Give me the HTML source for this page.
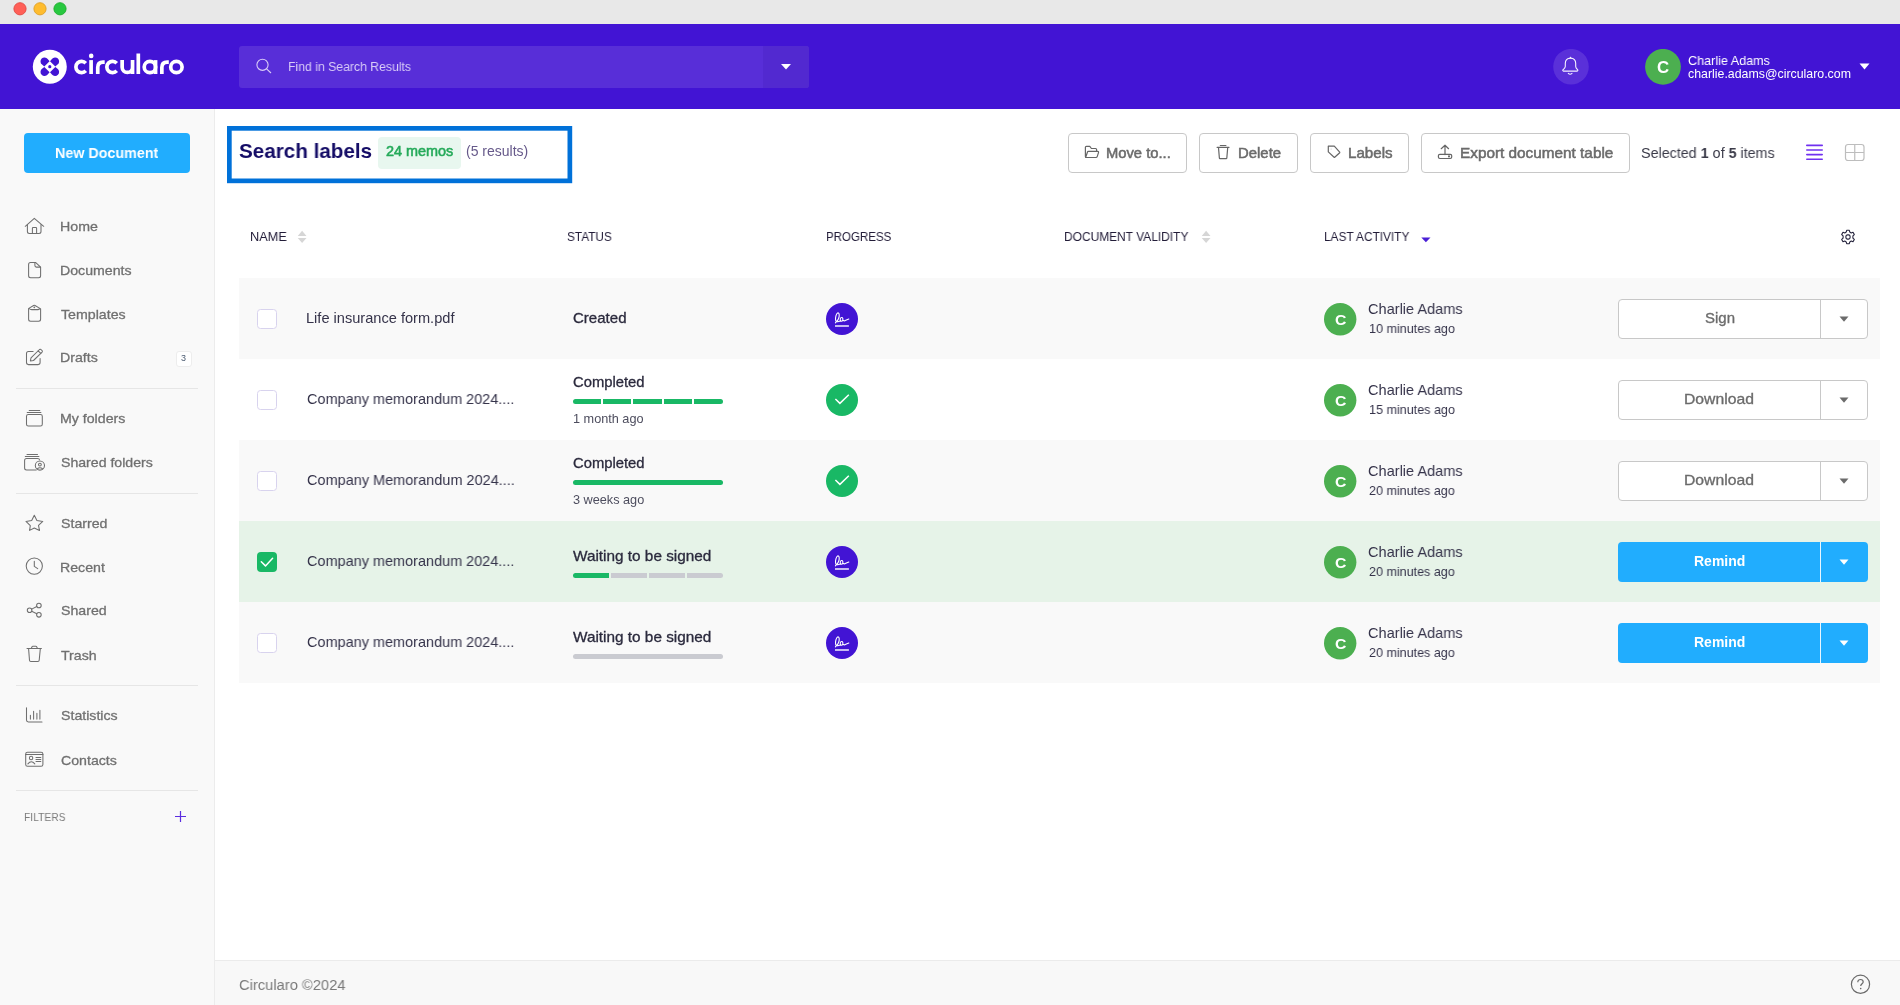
<!DOCTYPE html>
<html><head><meta charset="utf-8"><title>Circularo</title>
<style>
html,body{margin:0;padding:0;width:1900px;height:1005px;overflow:hidden;background:#fff;}
body{position:relative;font-family:"Liberation Sans", sans-serif;}
.r{position:absolute;display:block;}
.t{position:absolute;white-space:nowrap;will-change:transform;}
b{font-weight:700;}
</style></head><body>
<div class="r" style="left:0px;top:0px;width:1900px;height:24px;background:#e8e8e8;"></div>
<svg class="r" style="left:0px;top:0px;" width="80" height="24" viewBox="0 0 80 24"><circle cx="20" cy="8.8" r="6.1" fill="#ff5f57" stroke="#e2463f" stroke-width="0.9"/><circle cx="40" cy="8.8" r="6.1" fill="#febc2e" stroke="#df9e22" stroke-width="0.9"/><circle cx="60" cy="8.8" r="6.1" fill="#28c840" stroke="#1aab29" stroke-width="0.9"/></svg>
<div class="r" style="left:0px;top:24px;width:1900px;height:85px;background:#4214d4;"></div>
<svg class="r" style="left:32px;top:49px;" width="36" height="36" viewBox="0 0 36 36"><circle cx="17.8" cy="17.7" r="17" fill="#fff"/><g fill="#4214d4" transform="translate(17.8 17.7)"><path d="M-0.2,-5.5 L-5.5,-0.2 L-7.74,-2.13 A4 4 0 1 1 -2.13,-7.74 Z"/><path d="M-0.2,-5.5 L-5.5,-0.2 L-7.74,-2.13 A4 4 0 1 1 -2.13,-7.74 Z" transform="rotate(90)"/><path d="M-0.2,-5.5 L-5.5,-0.2 L-7.74,-2.13 A4 4 0 1 1 -2.13,-7.74 Z" transform="rotate(180)"/><path d="M-0.2,-5.5 L-5.5,-0.2 L-7.74,-2.13 A4 4 0 1 1 -2.13,-7.74 Z" transform="rotate(270)"/><circle r="1.6"/></g></svg>
<svg class="r" style="left:0px;top:0px;" width="200" height="100" viewBox="0 0 200 100"><g fill="none" stroke="#fff" stroke-width="3.7"><path d="M85.75 63.22 A5.65 5.65 0 1 0 85.75 70.78"/><path d="M91.1 60.1 V74"/><path d="M97.75 74 V67.4 Q97.75 62.05 103 62.05 H104.7"/><path d="M116.70 63.22 A5.65 5.65 0 1 0 116.70 70.78"/><path d="M122.15 60.1 V67.2 A5.2 5.2 0 0 0 132.55 67.2 M132.55 60.1 V74"/><path d="M138.3 53.5 V74"/><path d="M155.55 60.1 V74"/><path d="M161.85 74 V67.4 Q161.85 62.05 167.1 62.05 H168.8"/><circle cx="149.9" cy="67" r="5.7"/><circle cx="176.4" cy="67" r="5.7"/></g><circle cx="91.2" cy="55.9" r="2.3" fill="#fff"/></svg>
<div class="r" style="left:239px;top:46px;width:570px;height:42px;background:#582ed8;border-radius:3px;"></div>
<div class="r" style="left:763px;top:46px;width:46px;height:42px;background:#5229d0;border-radius:0 3px 3px 0;"></div>
<svg class="r" style="left:254px;top:56px;" width="20" height="20" viewBox="0 0 20 20"><circle cx="8.5" cy="8.8" r="5.6" fill="none" stroke="#d9ccf7" stroke-width="1.1"/><line x1="12.6" y1="12.9" x2="17" y2="17" stroke="#d9ccf7" stroke-width="1.1"/></svg>
<div class="t" style="left:287.74px;top:59.70px;font-size:13.7px;line-height:13.7px;color:#d9ccf7;font-weight:400;transform:scaleX(0.8935);transform-origin:0 0;">Find in Search Results</div>
<svg class="r" style="left:780px;top:63px;" width="12" height="8" viewBox="0 0 12 8"><path d="M1 1 L11 1 L6 6.5 Z" fill="#fff"/></svg>
<svg class="r" style="left:1553px;top:49px;" width="36" height="36" viewBox="0 0 36 36"><circle cx="18" cy="17.7" r="17.8" fill="#5a30d9"/><g fill="none" stroke="#f4f0ff" stroke-width="1.1" stroke-linejoin="round" stroke-linecap="round"><path d="M17.5 9.2 C14.5 9.2 12.3 11.2 12.3 14.5 L12.3 17.6 C12.3 19 10.8 20 9.9 20.9 C9.6 21.3 9.8 22.1 10.4 22.1 L24.2 22.1 C24.8 22.1 25 21.3 24.7 20.9 C23.8 20 22.7 19 22.7 17.6 L22.7 14.5 C22.7 11.2 20.5 9.2 17.5 9.2 Z"/><path d="M16.8 9.3 L17.5 8.3 L18.2 9.3"/><path d="M15.3 24.4 Q17.1 26.1 19 24.4"/></g></svg>
<svg class="r" style="left:1645px;top:49px;" width="36" height="36" viewBox="0 0 36 36"><circle cx="18" cy="17.8" r="17.9" fill="#4caf50"/></svg>
<div class="t" style="left:1656.72px;top:58.72px;font-size:16.4px;line-height:16.4px;color:#fff;font-weight:700;transform:scaleX(1.0255);transform-origin:0 0;">C</div>
<div class="t" style="left:1687.81px;top:53.61px;font-size:13.1px;line-height:13.1px;color:#fff;font-weight:400;transform:scaleX(0.9613);transform-origin:0 0;">Charlie Adams</div>
<div class="t" style="left:1688.01px;top:67.66px;font-size:12.1px;line-height:12.1px;color:#fff;font-weight:400;transform:scaleX(1.0218);transform-origin:0 0;">charlie.adams@circularo.com</div>
<svg class="r" style="left:1858px;top:62px;" width="14" height="10" viewBox="0 0 14 10"><path d="M1.5 1.5 L11.5 1.5 L6.5 7.5 Z" fill="#fff"/></svg>
<div class="r" style="left:0px;top:109px;width:214px;height:896px;background:#f9f9f9;"></div>
<div class="r" style="left:214px;top:109px;width:1px;height:896px;background:#ececec;"></div>
<div class="r" style="left:24px;top:133px;width:166px;height:40px;background:#21adfe;border-radius:4px;"></div>
<div class="t" style="left:55.41px;top:145.77px;font-size:14.8px;line-height:14.8px;color:#fff;font-weight:700;transform:scaleX(0.9660);transform-origin:0 0;">New Document</div>
<div class="t" style="left:60.09px;top:219.66px;font-size:13.4px;line-height:13.4px;color:#707070;font-weight:400;-webkit-text-stroke:0.3px #707070;transform:scaleX(1.0599);transform-origin:0 0;">Home</div>
<div class="t" style="left:60.09px;top:263.66px;font-size:13.4px;line-height:13.4px;color:#707070;font-weight:400;-webkit-text-stroke:0.3px #707070;transform:scaleX(1.0557);transform-origin:0 0;">Documents</div>
<div class="t" style="left:60.98px;top:307.66px;font-size:13.4px;line-height:13.4px;color:#707070;font-weight:400;-webkit-text-stroke:0.3px #707070;transform:scaleX(1.0588);transform-origin:0 0;">Templates</div>
<div class="t" style="left:60.09px;top:350.66px;font-size:13.4px;line-height:13.4px;color:#707070;font-weight:400;-webkit-text-stroke:0.3px #707070;transform:scaleX(1.0572);transform-origin:0 0;">Drafts</div>
<div class="t" style="left:60.09px;top:411.66px;font-size:13.4px;line-height:13.4px;color:#707070;font-weight:400;-webkit-text-stroke:0.3px #707070;transform:scaleX(1.0572);transform-origin:0 0;">My folders</div>
<div class="t" style="left:60.76px;top:455.66px;font-size:13.4px;line-height:13.4px;color:#707070;font-weight:400;-webkit-text-stroke:0.3px #707070;transform:scaleX(1.0543);transform-origin:0 0;">Shared folders</div>
<div class="t" style="left:60.76px;top:516.66px;font-size:13.4px;line-height:13.4px;color:#707070;font-weight:400;-webkit-text-stroke:0.3px #707070;transform:scaleX(1.0572);transform-origin:0 0;">Starred</div>
<div class="t" style="left:60.09px;top:560.66px;font-size:13.4px;line-height:13.4px;color:#707070;font-weight:400;-webkit-text-stroke:0.3px #707070;transform:scaleX(1.0572);transform-origin:0 0;">Recent</div>
<div class="t" style="left:60.76px;top:604.16px;font-size:13.4px;line-height:13.4px;color:#707070;font-weight:400;-webkit-text-stroke:0.3px #707070;transform:scaleX(1.0572);transform-origin:0 0;">Shared</div>
<div class="t" style="left:60.98px;top:648.66px;font-size:13.4px;line-height:13.4px;color:#707070;font-weight:400;-webkit-text-stroke:0.3px #707070;transform:scaleX(1.0572);transform-origin:0 0;">Trash</div>
<div class="t" style="left:60.76px;top:708.66px;font-size:13.4px;line-height:13.4px;color:#707070;font-weight:400;-webkit-text-stroke:0.3px #707070;transform:scaleX(1.0572);transform-origin:0 0;">Statistics</div>
<div class="t" style="left:60.54px;top:753.66px;font-size:13.4px;line-height:13.4px;color:#707070;font-weight:400;-webkit-text-stroke:0.3px #707070;transform:scaleX(1.0572);transform-origin:0 0;">Contacts</div>
<div class="r" style="left:16px;top:388px;width:182px;height:1px;background:#e6e6e6;"></div>
<div class="r" style="left:16px;top:493px;width:182px;height:1px;background:#e6e6e6;"></div>
<div class="r" style="left:16px;top:685px;width:182px;height:1px;background:#e6e6e6;"></div>
<div class="r" style="left:16px;top:790px;width:182px;height:1px;background:#e6e6e6;"></div>
<div class="r" style="left:175.5px;top:350.5px;width:16px;height:16px;background:#fff;border:1px solid #ededed;border-radius:3px;box-sizing:border-box;"></div>
<div class="t" style="left:181.04px;top:353.98px;font-size:9px;line-height:9px;color:#4a5a70;font-weight:400;">3</div>
<div class="t" style="left:23.70px;top:811.57px;font-size:11.5px;line-height:11.5px;color:#7c7c7c;font-weight:400;transform:scaleX(0.8945);transform-origin:0 0;">FILTERS</div>
<svg class="r" style="left:174px;top:810px;" width="13" height="13" viewBox="0 0 13 13"><path d="M6.5 1 V12 M1 6.5 H12" stroke="#5b2de0" stroke-width="1.2"/></svg>
<svg class="r" style="left:20px;top:212px;" width="30" height="28" viewBox="0 0 30 28"><g fill="none" stroke="#6f6f6f" stroke-width="1.05" stroke-linecap="round" stroke-linejoin="round"><path d="M5.3 14.3 L14.3 6.3 L23.7 14.3"/><path d="M7.4 12.6 V19.4 Q7.4 21.4 9.4 21.4 H19 Q21 21.4 21 19.4 V12.6"/><path d="M12.4 21.4 V16.2 Q12.4 15.5 13.1 15.5 H15.9 Q16.6 15.5 16.6 16.2 V21.4"/></g></svg>
<svg class="r" style="left:20px;top:256px;" width="30" height="28" viewBox="0 0 30 28"><g fill="none" stroke="#6f6f6f" stroke-width="1.05" stroke-linecap="round" stroke-linejoin="round"><path d="M15.5 6.4 H10.6 Q8.6 6.4 8.6 8.4 V19.7 Q8.6 21.7 10.6 21.7 H18.6 Q20.6 21.7 20.6 19.7 V11.2 Z"/><path d="M14.9 6.6 V9.6 Q14.9 11.1 16.4 11.1 H20.4"/></g></svg>
<svg class="r" style="left:20px;top:300px;" width="30" height="28" viewBox="0 0 30 28"><g fill="none" stroke="#6f6f6f" stroke-width="1.05" stroke-linecap="round" stroke-linejoin="round"><path d="M8.6 8.8 V19.2 Q8.6 21.2 10.6 21.2 H18.6 Q20.6 21.2 20.6 19.2 V8.8"/><path d="M8.8 8.4 L13.6 5.5 Q14.3 5.1 15 5.5 L19.9 8.4"/><path d="M9.3 8.6 Q10.3 9.6 11.7 9.6 H17.6 Q19 9.6 19.9 8.6"/><circle cx="14.3" cy="7.3" r="0.35"/></g></svg>
<svg class="r" style="left:20px;top:344px;" width="30" height="28" viewBox="0 0 30 28"><g fill="none" stroke="#6f6f6f" stroke-width="1.05" stroke-linecap="round" stroke-linejoin="round"><path d="M13.1 7.5 H8.5 Q6.5 7.5 6.5 9.5 V18.6 Q6.5 20.6 8.5 20.6 H18.1 Q20.1 20.6 20.1 18.6 V14.4"/><path d="M10.4 16.9 L11 13.9 L19.5 5.5 Q20.2 4.9 20.9 5.5 L22.1 6.7 Q22.7 7.4 22.1 8.1 L13.5 16.5 Z"/><path d="M18.2 6.8 L20.8 9.4"/></g></svg>
<svg class="r" style="left:20px;top:404px;" width="30" height="28" viewBox="0 0 30 28"><g fill="none" stroke="#6f6f6f" stroke-width="1.05" stroke-linecap="round" stroke-linejoin="round"><path d="M9.2 6.5 H19.8 M7.2 8.4 H20.9"/><rect x="6.5" y="10.4" width="15.8" height="11.6" rx="1.8"/></g></svg>
<svg class="r" style="left:20px;top:448px;" width="30" height="28" viewBox="0 0 30 28"><g fill="none" stroke="#6f6f6f" stroke-width="1.05" stroke-linecap="round" stroke-linejoin="round"><path d="M7 6.5 H17.5 M5.3 8.4 H18.9"/><path d="M16.2 22 H6.6 Q4.6 22 4.6 20 V12.4 Q4.6 10.4 6.6 10.4 H17.6 Q19.4 10.4 19.5 11.8"/><circle cx="19.9" cy="17.5" r="4.6"/><circle cx="19.9" cy="16.6" r="1.4"/><path d="M17.1 21 Q19.9 18.6 22.7 21"/></g></svg>
<svg class="r" style="left:20px;top:509px;" width="30" height="28" viewBox="0 0 30 28"><g fill="none" stroke="#6f6f6f" stroke-width="1.05" stroke-linecap="round" stroke-linejoin="round"><path d="M14.3 6.3 L16.9 11.4 L22.8 12.4 L18.5 16.4 L19.5 21.4 L14.3 19 L9.6 21.4 L10.3 16.6 L6 12.4 L11.7 11.4 Z"/></g></svg>
<svg class="r" style="left:20px;top:553px;" width="30" height="28" viewBox="0 0 30 28"><g fill="none" stroke="#6f6f6f" stroke-width="1.05" stroke-linecap="round" stroke-linejoin="round"><circle cx="14.3" cy="13.1" r="8.1"/><path d="M14.3 8.2 V13.4 L17.7 15.6"/></g></svg>
<svg class="r" style="left:20px;top:596px;" width="30" height="28" viewBox="0 0 30 28"><g fill="none" stroke="#6f6f6f" stroke-width="1.05" stroke-linecap="round" stroke-linejoin="round"><circle cx="18.9" cy="9.5" r="2.3"/><circle cx="9.6" cy="14.2" r="2.3"/><circle cx="18.9" cy="18.8" r="2.3"/><path d="M11.7 13.1 L16.8 10.5 M11.7 15.3 L16.8 17.8"/></g></svg>
<svg class="r" style="left:20px;top:640px;" width="30" height="28" viewBox="0 0 30 28"><g fill="none" stroke="#6f6f6f" stroke-width="1.05" stroke-linecap="round" stroke-linejoin="round"><path d="M7 8.5 H21.4"/><path d="M11.3 8.3 L12.2 6.6 Q12.4 6.3 12.8 6.3 H15.9 Q16.3 6.3 16.5 6.6 L17.4 8.3"/><path d="M8.6 8.9 L9.5 20.2 Q9.6 21.4 10.8 21.4 H17.9 Q19.1 21.4 19.2 20.2 L20.3 8.9"/></g></svg>
<svg class="r" style="left:20px;top:701px;" width="30" height="28" viewBox="0 0 30 28"><g fill="none" stroke="#6f6f6f" stroke-width="1.05" stroke-linecap="round" stroke-linejoin="round"><path d="M6.5 6.8 V19 Q6.5 20.9 8.4 20.9 H22"/><path d="M10.4 14.2 V18.1 M13.6 10.3 V18.1 M16.9 12.3 V18.1 M19.9 9.2 V18.1"/></g></svg>
<svg class="r" style="left:20px;top:745px;" width="30" height="28" viewBox="0 0 30 28"><g fill="none" stroke="#6f6f6f" stroke-width="1.05" stroke-linecap="round" stroke-linejoin="round"><rect x="5.7" y="7.3" width="17.2" height="13.9" rx="1.8"/><path d="M5.7 9.5 H22.9"/><circle cx="11.1" cy="13" r="1.7"/><path d="M7.9 18.9 Q11.3 14.6 14.8 18.9"/><path d="M16 12.5 H20.8 M16 14.5 H20.8 M16 16.4 H20.8"/></g></svg>
<div class="r" style="left:215px;top:960px;width:1685px;height:45px;background:#f8f8f8;"></div>
<div class="r" style="left:215px;top:960px;width:1685px;height:1px;background:#ebebeb;"></div>
<div class="t" style="left:238.81px;top:976.68px;font-size:15.5px;line-height:15.5px;color:#7a7a7a;font-weight:400;transform:scaleX(0.9495);transform-origin:0 0;">Circularo ©2024</div>
<svg class="r" style="left:1850px;top:974px;" width="21" height="21" viewBox="0 0 21 21"><circle cx="10.5" cy="10.3" r="9.1" fill="none" stroke="#6a6a6a" stroke-width="1.2"/><path d="M7.8 8.2 C7.8 6.4 9 5.5 10.5 5.5 C12 5.5 13.2 6.4 13.2 7.9 C13.2 9.6 10.7 9.9 10.7 12" fill="none" stroke="#6a6a6a" stroke-width="1.2"/><circle cx="10.7" cy="14.6" r="0.8" fill="#6a6a6a"/></svg>
<svg class="r" style="left:225px;top:124px;" width="350" height="62" viewBox="0 0 350 62"><rect x="4.35" y="4.35" width="340.5" height="52.5" fill="none" stroke="#0071d9" stroke-width="4.7"/></svg>
<div class="t" style="left:239.38px;top:140.79px;font-size:20.8px;line-height:20.8px;color:#140c66;font-weight:700;transform:scaleX(0.9921);transform-origin:0 0;">Search labels</div>
<div class="r" style="left:378px;top:137px;width:83px;height:32px;background:#e8f7ef;border-radius:4px;"></div>
<div class="t" style="left:386.12px;top:143.98px;font-size:14.2px;line-height:14.2px;color:#25aa5a;font-weight:400;-webkit-text-stroke:0.55px #25aa5a;transform:scaleX(1.0156);transform-origin:0 0;">24 memos</div>
<div class="t" style="left:466.14px;top:144.15px;font-size:14px;line-height:14px;color:#66598a;font-weight:400;">(5 results)</div>
<div class="r" style="left:1068px;top:133px;width:119px;height:40px;background:#fff;border:1px solid #c8c8c8;border-radius:4px;box-sizing:border-box;"></div>
<div class="t" style="left:1106.45px;top:145.96px;font-size:14.1px;line-height:14.1px;color:#6b6b6b;font-weight:400;-webkit-text-stroke:0.5px #6b6b6b;transform:scaleX(1.0465);transform-origin:0 0;">Move to...</div>

<div class="r" style="left:1199px;top:133px;width:99px;height:40px;background:#fff;border:1px solid #c8c8c8;border-radius:4px;box-sizing:border-box;"></div>
<div class="t" style="left:1237.54px;top:145.96px;font-size:14.1px;line-height:14.1px;color:#6b6b6b;font-weight:400;-webkit-text-stroke:0.5px #6b6b6b;transform:scaleX(1.0567);transform-origin:0 0;">Delete</div>

<div class="r" style="left:1310px;top:133px;width:99px;height:40px;background:#fff;border:1px solid #c8c8c8;border-radius:4px;box-sizing:border-box;"></div>
<div class="t" style="left:1348.02px;top:145.96px;font-size:14.1px;line-height:14.1px;color:#6b6b6b;font-weight:400;-webkit-text-stroke:0.5px #6b6b6b;transform:scaleX(1.0748);transform-origin:0 0;">Labels</div>

<div class="r" style="left:1421px;top:133px;width:209px;height:40px;background:#fff;border:1px solid #c8c8c8;border-radius:4px;box-sizing:border-box;"></div>
<div class="t" style="left:1459.50px;top:145.96px;font-size:14.1px;line-height:14.1px;color:#6b6b6b;font-weight:400;-webkit-text-stroke:0.5px #6b6b6b;transform:scaleX(1.0874);transform-origin:0 0;">Export document table</div>

<svg class="r" style="left:1080px;top:138px;" width="24" height="28" viewBox="0 0 24 28"><g fill="none" stroke="#666" stroke-width="1.2" stroke-linecap="round" stroke-linejoin="round"><path d="M5.4 18.6 V9.3 Q5.4 8.4 6.4 8.4 H9.8 L11.4 10.5 H15.6 Q16.6 10.5 16.6 11.5 V13.2"/><path d="M5.6 19.5 H16 Q16.9 19.5 17.2 18.6 L18.5 14.6 Q18.7 13.4 17.7 13.4 H8.3 Q7.7 13.4 7.5 14 L5.6 19.5 Z"/></g></svg>
<svg class="r" style="left:1210px;top:138px;" width="24" height="28" viewBox="0 0 24 28"><g fill="none" stroke="#666" stroke-width="1.2" stroke-linecap="round" stroke-linejoin="round"><path d="M10.3 7.5 H15.9"/><path d="M7.1 9.3 H19"/><path d="M8.5 9.6 L9.4 20.2 Q9.5 20.6 9.9 20.6 H16.3 Q16.7 20.6 16.8 20.2 L17.7 9.6"/></g></svg>
<svg class="r" style="left:1322px;top:138px;" width="24" height="28" viewBox="0 0 24 28"><g fill="none" stroke="#666" stroke-width="1.2" stroke-linecap="round" stroke-linejoin="round"><path d="M6.3 8.2 H12.3 L17.7 14.1 Q17.9 14.4 17.7 14.7 L12.7 19.3 Q12.4 19.5 12.1 19.3 L6.3 13.9 Z"/><circle cx="9.1" cy="10.9" r="0.5" fill="#bbb" stroke="none"/></g></svg>
<svg class="r" style="left:1433px;top:138px;" width="24" height="28" viewBox="0 0 24 28"><g fill="none" stroke="#666" stroke-width="1.2" stroke-linecap="round" stroke-linejoin="round"><path d="M12 16.6 V7.4 M8.2 10.7 L12 7.2 L15.6 10.7"/><rect x="5.4" y="16.3" width="13.3" height="4.2" rx="1.4"/><circle cx="16" cy="18.4" r="0.45" fill="#6b6b6b"/></g></svg>
<div class="t" style="left:1641.15px;top:145.63px;font-size:14.5px;line-height:14.5px;color:#3a3a48;font-weight:400;transform:scaleX(0.9870);transform-origin:0 0;">Selected <b>1</b> of <b>5</b> items</div>
<svg class="r" style="left:1804px;top:143px;" width="22" height="20" viewBox="0 0 22 20"><rect x="2" y="1.6" width="17" height="1.6" rx="0.8" fill="#7030f0"/><rect x="2" y="6.2" width="17" height="1.6" rx="0.8" fill="#7030f0"/><rect x="2" y="10.8" width="17" height="1.6" rx="0.8" fill="#7030f0"/><rect x="2" y="15.4" width="17" height="1.6" rx="0.8" fill="#7030f0"/></svg>
<svg class="r" style="left:1843px;top:142px;" width="24" height="22" viewBox="0 0 24 22"><rect x="2.5" y="2.5" width="18.5" height="16" rx="2.5" fill="none" stroke="#bdbdbd" stroke-width="1.2"/><path d="M11.75 2.5 V18.5 M2.5 10.5 H21" stroke="#bdbdbd" stroke-width="1.2"/></svg>
<div class="t" style="left:250.01px;top:230.96px;font-size:12.8px;line-height:12.8px;color:#221c38;font-weight:400;transform:scaleX(0.9931);transform-origin:0 0;">NAME</div>
<div class="t" style="left:566.63px;top:230.96px;font-size:12.8px;line-height:12.8px;color:#221c38;font-weight:400;transform:scaleX(0.9233);transform-origin:0 0;">STATUS</div>
<div class="t" style="left:825.50px;top:230.96px;font-size:12.8px;line-height:12.8px;color:#221c38;font-weight:400;transform:scaleX(0.8998);transform-origin:0 0;">PROGRESS</div>
<div class="t" style="left:1064.17px;top:230.96px;font-size:12.8px;line-height:12.8px;color:#221c38;font-weight:400;transform:scaleX(0.9341);transform-origin:0 0;">DOCUMENT VALIDITY</div>
<div class="t" style="left:1323.57px;top:230.96px;font-size:12.8px;line-height:12.8px;color:#221c38;font-weight:400;transform:scaleX(0.9257);transform-origin:0 0;">LAST ACTIVITY</div>
<svg class="r" style="left:297px;top:230px;" width="11" height="14" viewBox="0 0 11 14"><path d="M0.75 5.9 L5.1 0.7 L9.5 5.9 Z M0.75 7.9 L9.5 7.9 L5.1 12.9 Z" fill="#d6d6d6"/></svg>
<svg class="r" style="left:1200.7px;top:230px;" width="11" height="14" viewBox="0 0 11 14"><path d="M0.75 5.9 L5.1 0.7 L9.5 5.9 Z M0.75 7.9 L9.5 7.9 L5.1 12.9 Z" fill="#d6d6d6"/></svg>
<svg class="r" style="left:1420px;top:236px;" width="12" height="8" viewBox="0 0 12 8"><path d="M1.3 1.5 L10.5 1.5 L5.9 6.3 Z" fill="#4a1fd6"/></svg>
<div class="r" style="left:239px;top:278px;width:1641px;height:81px;background:#f9f9f9;"></div>
<svg class="r" style="left:257px;top:309px;" width="20" height="20" viewBox="0 0 20 20"><rect x="0.5" y="0.5" width="19" height="19" rx="3" fill="#fff" stroke="#d8d3ee" stroke-width="1"/></svg>
<div class="t" style="left:306.46px;top:310.64px;font-size:14.6px;line-height:14.6px;color:#35334a;font-weight:400;">Life insurance form.pdf</div>
<div class="t" style="left:572.69px;top:311.48px;font-size:14.2px;line-height:14.2px;color:#2b2a3d;font-weight:400;-webkit-text-stroke:0.3px #2b2a3d;transform:scaleX(1.0600);transform-origin:0 0;">Created</div>
<svg class="r" style="left:826px;top:302.5px;" width="32" height="32" viewBox="0 0 32 32"><circle cx="16" cy="16" r="16" fill="#4214d4"/><path d="M9.4 19.8 C10.6 18.6 13.6 16.2 13.2 11.8 C13 10.2 12.3 9.6 11.6 10 C10.2 10.8 9.2 14.4 9.6 17.2 C9.9 19.2 11.5 18.9 12.6 18.5 L14.8 17.9 C13.8 17.2 14.2 14.6 15.6 14.5 C16.8 14.4 17.2 16 16.6 17.6 C16.2 18.4 15 18.2 14.9 17.8 M16.6 17.2 C17.6 17.8 18.4 18.4 19.2 17.6 L22.8 16" fill="none" stroke="#fff" stroke-width="1.1" stroke-linecap="round" stroke-linejoin="round"/><rect x="9" y="22.3" width="13.9" height="1.4" fill="#fff"/></svg>
<svg class="r" style="left:1323.8px;top:302.5px;" width="33" height="33" viewBox="0 0 33 33"><circle cx="16.2" cy="16.2" r="16.2" fill="#4caf50"/></svg>
<div class="t" style="left:1334.91px;top:312.71px;font-size:14.4px;line-height:14.4px;color:#fff;font-weight:700;transform:scaleX(1.0956);transform-origin:0 0;">C</div>
<div class="t" style="left:1368.22px;top:301.54px;font-size:14.6px;line-height:14.6px;color:#35334a;font-weight:400;transform:scaleX(0.9967);transform-origin:0 0;">Charlie Adams</div>
<div class="t" style="left:1368.51px;top:322.78px;font-size:12.9px;line-height:12.9px;color:#35334a;font-weight:400;transform:scaleX(0.9749);transform-origin:0 0;">10 minutes ago</div>
<div class="r" style="left:1618px;top:299px;width:250px;height:40px;background:#fff;border:1px solid #c8c8c8;border-radius:4px;box-sizing:border-box;"></div>
<div class="r" style="left:1820px;top:299px;width:1px;height:40px;background:#c8c8c8;"></div>
<div class="t" style="left:1704.58px;top:312.23px;font-size:13.9px;line-height:13.9px;color:#6b6b6b;font-weight:400;-webkit-text-stroke:0.3px #6b6b6b;transform:scaleX(1.0787);transform-origin:0 0;">Sign</div>
<svg class="r" style="left:1838px;top:315px;" width="12" height="8" viewBox="0 0 12 8"><path d="M1.5 1.5 L10.5 1.5 L6 6.8 Z" fill="#6b6b6b"/></svg>
<div class="r" style="left:239px;top:359px;width:1641px;height:81px;background:#ffffff;"></div>
<svg class="r" style="left:257px;top:390px;" width="20" height="20" viewBox="0 0 20 20"><rect x="0.5" y="0.5" width="19" height="19" rx="3" fill="#fff" stroke="#d8d3ee" stroke-width="1"/></svg>
<div class="t" style="left:306.92px;top:391.64px;font-size:14.6px;line-height:14.6px;color:#35334a;font-weight:400;transform:scaleX(0.9910);transform-origin:0 0;">Company memorandum 2024....</div>
<div class="t" style="left:573.01px;top:374.98px;font-size:14.2px;line-height:14.2px;color:#2b2a3d;font-weight:400;-webkit-text-stroke:0.3px #2b2a3d;transform:scaleX(1.0430);transform-origin:0 0;">Completed</div>
<div class="t" style="left:572.91px;top:412.85px;font-size:12.7px;line-height:12.7px;color:#4d4d5e;font-weight:400;">1 month ago</div>
<div class="r" style="left:573px;top:399px;width:28px;height:5px;background:#19b865;border-top-left-radius:2.5px;border-bottom-left-radius:2.5px;"></div>
<div class="r" style="left:603px;top:399px;width:28px;height:5px;background:#19b865;"></div>
<div class="r" style="left:633px;top:399px;width:29px;height:5px;background:#19b865;"></div>
<div class="r" style="left:664px;top:399px;width:28px;height:5px;background:#19b865;"></div>
<div class="r" style="left:694px;top:399px;width:29px;height:5px;background:#19b865;border-top-right-radius:2.5px;border-bottom-right-radius:2.5px;"></div>
<svg class="r" style="left:826px;top:383.5px;" width="32" height="32" viewBox="0 0 32 32"><circle cx="16" cy="16" r="16" fill="#19b865"/><path d="M9.4 15 L13.9 19.4 L22.8 10.8" fill="none" stroke="#fff" stroke-width="1.5"/></svg>
<svg class="r" style="left:1323.8px;top:383.5px;" width="33" height="33" viewBox="0 0 33 33"><circle cx="16.2" cy="16.2" r="16.2" fill="#4caf50"/></svg>
<div class="t" style="left:1334.91px;top:393.71px;font-size:14.4px;line-height:14.4px;color:#fff;font-weight:700;transform:scaleX(1.0956);transform-origin:0 0;">C</div>
<div class="t" style="left:1368.22px;top:382.54px;font-size:14.6px;line-height:14.6px;color:#35334a;font-weight:400;transform:scaleX(0.9967);transform-origin:0 0;">Charlie Adams</div>
<div class="t" style="left:1368.51px;top:403.78px;font-size:12.9px;line-height:12.9px;color:#35334a;font-weight:400;transform:scaleX(0.9749);transform-origin:0 0;">15 minutes ago</div>
<div class="r" style="left:1618px;top:380px;width:250px;height:40px;background:#fff;border:1px solid #c8c8c8;border-radius:4px;box-sizing:border-box;"></div>
<div class="r" style="left:1820px;top:380px;width:1px;height:40px;background:#c8c8c8;"></div>
<div class="t" style="left:1684.22px;top:393.23px;font-size:13.9px;line-height:13.9px;color:#6b6b6b;font-weight:400;-webkit-text-stroke:0.3px #6b6b6b;transform:scaleX(1.1326);transform-origin:0 0;">Download</div>
<svg class="r" style="left:1838px;top:396px;" width="12" height="8" viewBox="0 0 12 8"><path d="M1.5 1.5 L10.5 1.5 L6 6.8 Z" fill="#6b6b6b"/></svg>
<div class="r" style="left:239px;top:440px;width:1641px;height:81px;background:#f9f9f9;"></div>
<svg class="r" style="left:257px;top:471px;" width="20" height="20" viewBox="0 0 20 20"><rect x="0.5" y="0.5" width="19" height="19" rx="3" fill="#fff" stroke="#d8d3ee" stroke-width="1"/></svg>
<div class="t" style="left:306.92px;top:472.64px;font-size:14.6px;line-height:14.6px;color:#35334a;font-weight:400;transform:scaleX(0.9929);transform-origin:0 0;">Company Memorandum 2024....</div>
<div class="t" style="left:573.01px;top:455.98px;font-size:14.2px;line-height:14.2px;color:#2b2a3d;font-weight:400;-webkit-text-stroke:0.3px #2b2a3d;transform:scaleX(1.0430);transform-origin:0 0;">Completed</div>
<div class="t" style="left:573.30px;top:493.85px;font-size:12.7px;line-height:12.7px;color:#4d4d5e;font-weight:400;">3 weeks ago</div>
<div class="r" style="left:573px;top:480px;width:150px;height:5px;background:#19b865;border-top-left-radius:2.5px;border-bottom-left-radius:2.5px;border-top-right-radius:2.5px;border-bottom-right-radius:2.5px;"></div>
<svg class="r" style="left:826px;top:464.5px;" width="32" height="32" viewBox="0 0 32 32"><circle cx="16" cy="16" r="16" fill="#19b865"/><path d="M9.4 15 L13.9 19.4 L22.8 10.8" fill="none" stroke="#fff" stroke-width="1.5"/></svg>
<svg class="r" style="left:1323.8px;top:464.5px;" width="33" height="33" viewBox="0 0 33 33"><circle cx="16.2" cy="16.2" r="16.2" fill="#4caf50"/></svg>
<div class="t" style="left:1334.91px;top:474.71px;font-size:14.4px;line-height:14.4px;color:#fff;font-weight:700;transform:scaleX(1.0956);transform-origin:0 0;">C</div>
<div class="t" style="left:1368.22px;top:463.54px;font-size:14.6px;line-height:14.6px;color:#35334a;font-weight:400;transform:scaleX(0.9967);transform-origin:0 0;">Charlie Adams</div>
<div class="t" style="left:1368.71px;top:484.78px;font-size:12.9px;line-height:12.9px;color:#35334a;font-weight:400;transform:scaleX(0.9727);transform-origin:0 0;">20 minutes ago</div>
<div class="r" style="left:1618px;top:461px;width:250px;height:40px;background:#fff;border:1px solid #c8c8c8;border-radius:4px;box-sizing:border-box;"></div>
<div class="r" style="left:1820px;top:461px;width:1px;height:40px;background:#c8c8c8;"></div>
<div class="t" style="left:1684.22px;top:474.23px;font-size:13.9px;line-height:13.9px;color:#6b6b6b;font-weight:400;-webkit-text-stroke:0.3px #6b6b6b;transform:scaleX(1.1326);transform-origin:0 0;">Download</div>
<svg class="r" style="left:1838px;top:477px;" width="12" height="8" viewBox="0 0 12 8"><path d="M1.5 1.5 L10.5 1.5 L6 6.8 Z" fill="#6b6b6b"/></svg>
<div class="r" style="left:239px;top:521px;width:1641px;height:81px;background:#e6f3e8;"></div>
<svg class="r" style="left:257px;top:552px;" width="20" height="20" viewBox="0 0 20 20"><rect x="0" y="0" width="20" height="20" rx="4" fill="#19b865"/><path d="M4.3 9.7 L8.5 13.9 L15.6 6.3" fill="none" stroke="#fff" stroke-width="1.5" stroke-linecap="round" stroke-linejoin="round"/></svg>
<div class="t" style="left:306.92px;top:553.64px;font-size:14.6px;line-height:14.6px;color:#35334a;font-weight:400;transform:scaleX(0.9910);transform-origin:0 0;">Company memorandum 2024....</div>
<div class="t" style="left:573.40px;top:548.98px;font-size:14.2px;line-height:14.2px;color:#2b2a3d;font-weight:400;-webkit-text-stroke:0.3px #2b2a3d;transform:scaleX(1.0806);transform-origin:0 0;">Waiting to be signed</div>
<div class="r" style="left:573px;top:573px;width:36px;height:5px;background:#19b865;border-top-left-radius:2.5px;border-bottom-left-radius:2.5px;"></div>
<div class="r" style="left:611px;top:573px;width:36px;height:5px;background:#cacbd1;"></div>
<div class="r" style="left:649px;top:573px;width:36px;height:5px;background:#cacbd1;"></div>
<div class="r" style="left:687px;top:573px;width:36px;height:5px;background:#cacbd1;border-top-right-radius:2.5px;border-bottom-right-radius:2.5px;"></div>
<svg class="r" style="left:826px;top:545.5px;" width="32" height="32" viewBox="0 0 32 32"><circle cx="16" cy="16" r="16" fill="#4214d4"/><path d="M9.4 19.8 C10.6 18.6 13.6 16.2 13.2 11.8 C13 10.2 12.3 9.6 11.6 10 C10.2 10.8 9.2 14.4 9.6 17.2 C9.9 19.2 11.5 18.9 12.6 18.5 L14.8 17.9 C13.8 17.2 14.2 14.6 15.6 14.5 C16.8 14.4 17.2 16 16.6 17.6 C16.2 18.4 15 18.2 14.9 17.8 M16.6 17.2 C17.6 17.8 18.4 18.4 19.2 17.6 L22.8 16" fill="none" stroke="#fff" stroke-width="1.1" stroke-linecap="round" stroke-linejoin="round"/><rect x="9" y="22.3" width="13.9" height="1.4" fill="#fff"/></svg>
<svg class="r" style="left:1323.8px;top:545.5px;" width="33" height="33" viewBox="0 0 33 33"><circle cx="16.2" cy="16.2" r="16.2" fill="#4caf50"/></svg>
<div class="t" style="left:1334.91px;top:555.71px;font-size:14.4px;line-height:14.4px;color:#fff;font-weight:700;transform:scaleX(1.0956);transform-origin:0 0;">C</div>
<div class="t" style="left:1368.22px;top:544.54px;font-size:14.6px;line-height:14.6px;color:#35334a;font-weight:400;transform:scaleX(0.9967);transform-origin:0 0;">Charlie Adams</div>
<div class="t" style="left:1368.71px;top:565.78px;font-size:12.9px;line-height:12.9px;color:#35334a;font-weight:400;transform:scaleX(0.9727);transform-origin:0 0;">20 minutes ago</div>
<div class="r" style="left:1618px;top:542px;width:250px;height:40px;background:#21adfe;border-radius:4px;"></div>
<div class="r" style="left:1820px;top:542px;width:1px;height:40px;background:#e8f6ff;"></div>
<div class="t" style="left:1693.72px;top:555.23px;font-size:13.9px;line-height:13.9px;color:#fff;font-weight:700;transform:scaleX(1.0079);transform-origin:0 0;">Remind</div>
<svg class="r" style="left:1838px;top:558px;" width="12" height="8" viewBox="0 0 12 8"><path d="M1.5 1.5 L10.5 1.5 L6 6.8 Z" fill="#fff"/></svg>
<div class="r" style="left:239px;top:602px;width:1641px;height:81px;background:#f9f9f9;"></div>
<svg class="r" style="left:257px;top:633px;" width="20" height="20" viewBox="0 0 20 20"><rect x="0.5" y="0.5" width="19" height="19" rx="3" fill="#fff" stroke="#d8d3ee" stroke-width="1"/></svg>
<div class="t" style="left:306.92px;top:634.64px;font-size:14.6px;line-height:14.6px;color:#35334a;font-weight:400;transform:scaleX(0.9910);transform-origin:0 0;">Company memorandum 2024....</div>
<div class="t" style="left:573.40px;top:629.98px;font-size:14.2px;line-height:14.2px;color:#2b2a3d;font-weight:400;-webkit-text-stroke:0.3px #2b2a3d;transform:scaleX(1.0806);transform-origin:0 0;">Waiting to be signed</div>
<div class="r" style="left:573px;top:654px;width:150px;height:5px;background:#cacbd1;border-top-left-radius:2.5px;border-bottom-left-radius:2.5px;border-top-right-radius:2.5px;border-bottom-right-radius:2.5px;"></div>
<svg class="r" style="left:826px;top:626.5px;" width="32" height="32" viewBox="0 0 32 32"><circle cx="16" cy="16" r="16" fill="#4214d4"/><path d="M9.4 19.8 C10.6 18.6 13.6 16.2 13.2 11.8 C13 10.2 12.3 9.6 11.6 10 C10.2 10.8 9.2 14.4 9.6 17.2 C9.9 19.2 11.5 18.9 12.6 18.5 L14.8 17.9 C13.8 17.2 14.2 14.6 15.6 14.5 C16.8 14.4 17.2 16 16.6 17.6 C16.2 18.4 15 18.2 14.9 17.8 M16.6 17.2 C17.6 17.8 18.4 18.4 19.2 17.6 L22.8 16" fill="none" stroke="#fff" stroke-width="1.1" stroke-linecap="round" stroke-linejoin="round"/><rect x="9" y="22.3" width="13.9" height="1.4" fill="#fff"/></svg>
<svg class="r" style="left:1323.8px;top:626.5px;" width="33" height="33" viewBox="0 0 33 33"><circle cx="16.2" cy="16.2" r="16.2" fill="#4caf50"/></svg>
<div class="t" style="left:1334.91px;top:636.71px;font-size:14.4px;line-height:14.4px;color:#fff;font-weight:700;transform:scaleX(1.0956);transform-origin:0 0;">C</div>
<div class="t" style="left:1368.22px;top:625.54px;font-size:14.6px;line-height:14.6px;color:#35334a;font-weight:400;transform:scaleX(0.9967);transform-origin:0 0;">Charlie Adams</div>
<div class="t" style="left:1368.71px;top:646.78px;font-size:12.9px;line-height:12.9px;color:#35334a;font-weight:400;transform:scaleX(0.9727);transform-origin:0 0;">20 minutes ago</div>
<div class="r" style="left:1618px;top:623px;width:250px;height:40px;background:#21adfe;border-radius:4px;"></div>
<div class="r" style="left:1820px;top:623px;width:1px;height:40px;background:#e8f6ff;"></div>
<div class="t" style="left:1693.72px;top:636.23px;font-size:13.9px;line-height:13.9px;color:#fff;font-weight:700;transform:scaleX(1.0079);transform-origin:0 0;">Remind</div>
<svg class="r" style="left:1838px;top:639px;" width="12" height="8" viewBox="0 0 12 8"><path d="M1.5 1.5 L10.5 1.5 L6 6.8 Z" fill="#fff"/></svg>
<svg class="r" style="left:1839px;top:228px;" width="18" height="18" viewBox="0 0 18 18"><g fill="none" stroke="#22203a" stroke-width="1.1"><rect x="6.9" y="6.9" width="4.2" height="4.2" rx="1.6"/><path d="M7.7 2.3 L10.3 2.3 L10.8 4.1 L12.2 4.9 L14 4.3 L15.3 6.6 L13.9 7.9 L13.9 10.1 L15.3 11.4 L14 13.7 L12.2 13.1 L10.8 13.9 L10.3 15.7 L7.7 15.7 L7.2 13.9 L5.8 13.1 L4 13.7 L2.7 11.4 L4.1 10.1 L4.1 7.9 L2.7 6.6 L4 4.3 L5.8 4.9 L7.2 4.1 Z" stroke-linejoin="round"/></g></svg>
</body></html>
